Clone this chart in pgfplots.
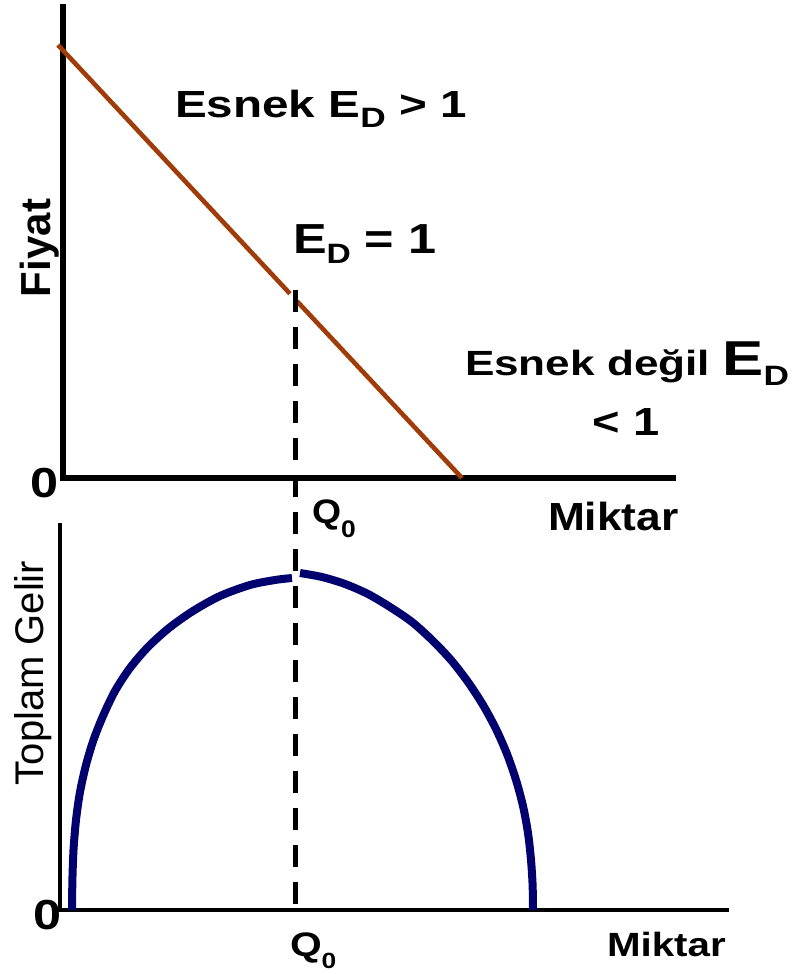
\documentclass[border=0pt]{standalone}
\usepackage{fontspec}
\setmainfont{Liberation Sans}
\usepackage{graphicx}
\usepackage{pgfplots}
\pgfplotsset{compat=1.18}

\definecolor{demand}{RGB}{160,60,10}
\definecolor{revenue}{RGB}{0,0,110}

% horizontal text in the reference is a little wider than the font
\newcommand{\hs}[2][1.2]{\scalebox{#1}[1]{#2}}
\newcommand{\fs}[1]{\fontsize{#1}{#1}\selectfont}

\pgfplotsset{panel/.style={
    anchor=south west,
    x=0.5pt, y=0.5pt,
    axis x line=bottom, axis y line=left,
    xtick=\empty, ytick=\empty,
    clip=false
}}

\begin{document}
\begin{tikzpicture}
\useasboundingbox (0,0) rectangle (398pt,-487pt);

% ---- talep egrisi (ust panel) ----
\begin{axis}[panel, at={(31.5pt,-239pt)},
    xmin=0, xmax=610, ymin=0, ymax=471,
    axis line style={-, line width=3pt, line cap=rect}]
\addplot[demand, line width=2.3pt] coordinates {(-5,433) (227,184.3)};
\addplot[demand, line width=2.3pt] coordinates {(234,176.8) (399,0)};
\addplot[black, line width=2.5pt, dash pattern=on 11pt off 7.5pt]
    coordinates {(232,188) (232,-432)};
\end{axis}

% ---- toplam gelir (alt panel) ----
\begin{axis}[panel, at={(30pt,-455pt)},
    xmin=0, xmax=667, ymin=0, ymax=385,
    axis line style={-, line width=2.4pt, line cap=rect}]
\addplot[revenue, line width=4pt, smooth] coordinates {
    (12,0) (12.4,30) (13.5,60) (16,90) (20,118) (26,145) (33.5,170)
    (43,194) (55,219) (70,242) (88,263) (109,282) (133,299) (160,314)
    (190,325) (215,330) (232,332)
};
\addplot[revenue, line width=4pt, smooth] coordinates {
    (240,337) (262,333) (285,326) (308,316) (330,303) (352,288) (372,270)
    (391,250) (408,228) (423,205) (436,181) (447,156) (456,130) (463,104)
    (468,77) (471,50) (472.6,25) (473,0)
};
\end{axis}

% ---- yazilar ----
\begin{scope}[x=0.5pt, y=-0.5pt, inner sep=0pt, outer sep=0pt]
\node[anchor=base west] at (175,118) {\hs[1.26]{\fs{18.9}\bfseries Esnek E\raisebox{-5pt}{\fs{14}D} > 1}};
\node[anchor=base west] at (293,253) {\hs{\fs{21}\bfseries E\raisebox{-5pt}{\fs{14}D} = 1}};
\node[anchor=base west] at (465,375) {\hs[1.26]{\fs{17.5}\bfseries Esnek değil {\fs{24.5}E}\raisebox{-5pt}{\fs{14}D}}};
\node[anchor=base] at (626,435) {\hs{\fs{19.6}\bfseries < 1}};
\node[anchor=base west] at (548,530) {\hs[1.13]{\fs{19.6}\bfseries Miktar}};
\node[anchor=base west] at (312,523) {\hs[1.1]{\fs{17}\bfseries Q\raisebox{-7pt}{\fs{12}0}}};
\node at (45,483) {\hs{\fs{21}\bfseries 0}};
\node[rotate=90, anchor=base] at (50,248) {\fs{21}\bfseries Fiyat};

\node[rotate=90, anchor=base] at (43,673) {\fs{20}Toplam Gelir};
\node at (47.5,915) {\hs{\fs{21}\bfseries 0}};
\node[anchor=base west] at (290,956) {\hs{\fs{17}\bfseries Q\raisebox{-6pt}{\fs{11}0}}};
\node[anchor=base west] at (607,956) {\hs{\fs{16.8}\bfseries Miktar}};
\end{scope}
\end{tikzpicture}
\end{document}
